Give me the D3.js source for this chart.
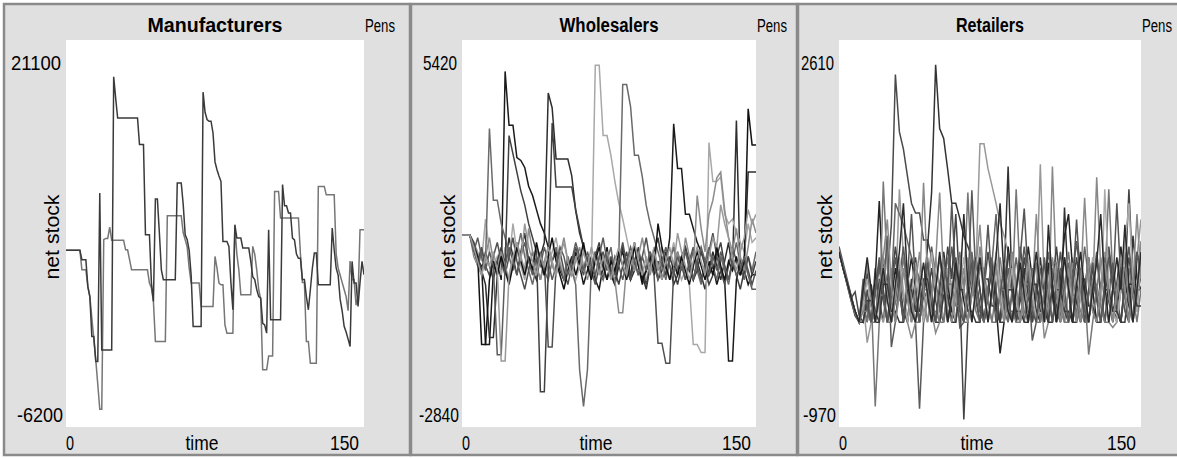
<!DOCTYPE html>
<html>
<head>
<meta charset="utf-8">
<script src="https://cdn.jsdelivr.net/npm/d3@7"></script>
<style>
  body { margin: 0; background: #fff; }
  svg { display: block; font-family: "Liberation Sans", Arial, sans-serif; }
</style>
</head>
<body>
<div id="viz"></div>
<script>
// ---------- data ----------
const panelTitles = ["Manufacturers", "Wholesalers", "Retailers"];
const yMaxLabels = [21100, 5420, 2610];
const yMinLabels = [-6200, -2840, -970];
const xMaxLabel = 150;
const xTitle = "time";
const yTitle = "net stock";
const pensLabel = "Pens";

// manufacturers: one value per tick (0..150)
const manufacturers = [
  [6260,6260,6260,6260,6260,6260,6260,6260,5600,5600,5600,3700,3000,185,185,-1580,-1580,10300,-760,-760,
   -760,-760,-760,-760,18500,17000,15600,15600,15600,15600,15600,15600,15600,15600,15600,15600,15600,13720,13720,13720,
   7360,7360,7360,3950,2660,9880,9880,7480,4890,4190,4190,4190,4190,4190,4190,4190,11010,11010,11010,9500,
   7360,7010,6260,4500,890,890,890,890,890,17420,16000,15490,15370,15370,14540,12500,11950,11500,11130,6890,
   6890,6890,6540,4000,2070,8070,7130,7130,7130,6420,6420,6420,6420,5500,4400,4200,3500,3000,2900,1110,
   1000,420,7720,1360,1360,1360,1360,1360,1360,10900,9400,9400,8900,8900,7130,7000,6000,5700,5700,4200,
   4200,3000,2070,3500,5000,6070,6070,3830,3830,3830,3830,3830,3830,3830,7840,6300,5000,4500,2800,2000,
   900,500,0,-520,5480,3950,3950,2300,4000,5480,4540],
  [6260,6260,6260,6260,6260,6260,6260,6260,4890,4890,4890,3700,3010,1500,0,-1500,-3200,-4950,-4950,7010,
   7100,7100,7900,6970,6970,6970,6970,6970,6970,6970,6300,6300,5600,4890,4890,4890,4890,4890,4890,4890,
   4890,4890,3950,3600,2660,-170,-170,-170,-170,-170,-170,8710,8710,8710,8710,8710,8710,8710,8710,7500,
   7000,6500,5000,3950,3950,3950,3950,3950,2300,2300,2300,2300,2300,2300,2300,5830,5000,3950,3830,3830,
   1000,420,420,420,420,7950,6000,4890,3130,3130,3130,3130,3130,3130,6540,6000,4890,3500,2800,-2170,
   -2170,-2170,-1200,-1200,-1200,10420,10420,10420,8540,8540,8540,8540,8540,8540,8540,8540,8540,8540,6000,4000,
   4000,-170,-170,-1700,-1700,-1700,-1700,10770,10770,10770,10770,10180,10180,10180,10180,10180,6000,5000,4500,4000,
   3500,3000,2000,5500,4190,4190,2400,3000,7720,7720,7720]
];

// wholesalers: one value every 2 ticks (0,2,..,150)
const wholesalers = [
  [1260,1260,1260,900,700,600,-1080,-1080,500,700,300,4750,3600,3600,2910,2850,2700,2300,2100,1800,
   1500,1300,1000,700,900,500,300,700,400,900,600,200,500,800,300,100,600,1000,400,200,
   700,900,500,300,1100,600,200,500,900,400,700,300,600,1200,3630,2680,2680,1700,1700,1400,
   1100,900,700,400,600,200,500,300,-1430,-1430,300,700,500,200,410,410],
  [1260,1260,1260,1000,800,500,200,-930,-930,400,900,600,1200,800,400,900,1300,700,500,300,
   800,1100,4290,3970,2880,2880,2880,2880,2520,1780,1300,1000,700,400,900,600,300,800,500,200,
   600,1000,700,300,500,900,400,100,600,800,300,500,900,600,200,400,800,1000,500,300,
   700,400,100,500,900,600,300,700,1100,500,3700,400,600,2600,2600,2600],
  [1260,1260,1260,1100,900,700,1600,900,600,800,400,1000,700,1500,900,600,300,800,500,1000,
   700,400,600,900,1200,700,400,800,500,300,600,900,700,500,4880,4880,3380,3380,2950,2400,
   1940,1600,1200,800,500,900,600,300,700,1000,500,800,400,700,1100,600,300,500,200,-1080,
   -1080,-1250,-1250,3230,2400,2400,2500,1700,1500,1600,1300,1100,900,1500,1100,1200],
  [1260,1260,1260,1000,600,900,700,3530,2000,2000,1500,1200,800,500,900,1300,800,500,200,600,
   900,500,300,700,1000,600,300,800,500,200,-1620,-2400,-1620,600,900,500,300,700,1000,400,
   800,4470,4470,4000,2960,2960,2500,1890,1500,1200,900,600,300,700,1000,500,800,300,600,900,
   500,200,700,1000,600,300,800,500,200,700,1100,600,300,800,500,900],
  [1260,1260,1260,1100,800,500,900,600,300,700,1000,600,3380,2990,2600,2200,1900,1500,1200,900,
   -2090,-2090,500,3650,2280,2280,2280,2280,2280,1800,1400,1000,700,400,800,1100,600,300,700,500,
   200,600,900,400,700,1000,500,200,600,900,1200,700,400,800,500,200,600,1000,700,300,
   500,900,600,200,400,800,1100,600,300,700,400,100,500,800,400,700],
  [1260,1260,1260,900,700,1000,600,400,800,1100,700,400,800,1200,700,400,100,500,900,600,
   300,700,-1130,-1130,600,900,500,200,600,1000,700,400,800,500,200,600,900,500,800,400,
   700,1100,600,300,700,400,800,1200,700,400,-1050,-1050,-1480,-1480,500,900,600,300,700,1000,
   600,300,500,900,1300,800,500,200,600,1000,700,400,800,500,200,500],
  [1260,1260,1260,800,600,400,800,1200,700,500,900,600,300,700,1100,800,500,1400,900,600,
   300,700,1000,600,400,800,1200,700,400,700,1000,600,300,700,400,800,500,900,600,300,
   -400,-400,600,900,500,800,1200,700,400,800,500,1000,700,300,600,900,500,1200,800,500,
   2100,1400,900,1700,2000,2480,2600,1800,1200,900,1400,800,500,1000,1600,1300],
  [1260,1260,1260,1000,800,-1080,-1080,300,700,400,800,500,200,600,1000,700,400,800,500,1100,
   700,400,800,1200,700,400,100,500,800,400,700,1100,600,300,700,1000,600,300,700,500,
   900,600,300,700,1000,600,300,500,800,500,1500,1000,600,300,700,400,800,500,200,600,
   900,600,300,700,400,1000,600,300,700,500,800,400,700,3950,3180,3180],
  [1260,1260,1260,900,1200,800,500,900,600,-1300,-1300,600,1000,700,400,800,1100,700,400,800,
   600,1000,700,300,600,1000,800,400,700,1100,800,500,900,600,400,800,1200,700,400,800,
   600,300,700,1000,700,400,800,500,900,600,300,700,1000,600,400,800,500,900,600,300,
   700,1000,700,400,800,500,900,600,300,700,400,500,800,400,100,100],
  [1260,1260,1260,1000,700,400,800,600,900,500,-1430,-1430,400,800,1100,700,1500,1000,700,400,
   800,600,1000,700,400,800,1100,700,400,800,500,900,600,1000,700,400,800,600,300,700,
   1000,600,400,800,1100,700,400,800,500,900,600,300,700,1000,600,1300,900,600,300,700,
   1000,700,400,800,1200,1000,1900,1500,1200,800,500,900,1200,1800,1500,1700]
];

// retailers: one value every 2 ticks (0,2,..,150)
const retailers = [
  [650,500,360,220,280,60,0,300,0,500,200,0,400,900,2290,1760,1600,1350,1100,1010,
   1010,760,760,600,350,100,400,0,250,600,300,0,150,500,200,0,300,650,350,100,
   0,400,200,0,300,700,400,100,0,350,200,0,500,300,0,200,600,350,0,250,
   500,150,0,400,200,0,300,700,400,100,0,350,600,300,200,450],
  [650,520,380,240,100,0,150,0,350,100,0,600,300,0,200,500,250,0,400,150,
   0,300,700,1200,2380,1790,1700,1410,1100,1100,960,800,700,600,400,150,0,300,550,200,
   0,400,1440,300,0,200,500,250,0,300,600,200,0,350,150,0,1060,300,0,200,
   500,250,0,300,600,250,0,400,150,0,500,250,0,800,400,300],
  [650,510,370,230,90,0,200,-190,0,300,100,0,250,500,200,1230,600,300,0,200,
   400,100,0,300,600,300,0,200,500,250,0,300,600,350,500,1650,1650,1420,1260,1100,
   920,800,650,400,200,0,300,150,0,250,1460,300,0,200,500,250,0,300,600,300,
   0,200,500,250,0,300,650,350,100,0,300,600,300,400,600,950],
  [650,500,350,200,60,0,300,100,0,400,1120,300,0,200,500,300,0,350,600,300,
   0,250,500,200,0,300,650,350,100,0,400,200,0,300,600,300,0,250,500,150,
   -290,0,700,400,100,0,350,700,400,100,0,300,550,250,0,400,800,1000,500,200,
   0,300,600,300,0,250,500,200,0,350,700,400,150,0,600,550],
  [650,510,360,220,80,0,200,0,250,-780,0,1300,500,200,0,300,600,300,0,200,
   0,300,600,300,0,200,500,250,0,300,650,300,1200,400,100,0,350,200,0,300,
   600,300,0,250,1230,400,100,0,300,550,250,0,200,500,250,0,300,650,350,100,
   0,300,-300,0,300,600,350,1230,400,100,0,300,500,250,0,300],
  [700,550,400,250,100,0,400,150,0,300,600,300,800,-230,0,400,700,350,100,0,
   -800,0,300,700,400,100,0,350,700,400,-50,0,300,1220,400,100,0,300,600,300,
   0,200,500,250,0,350,700,400,-170,0,300,600,300,0,250,500,200,0,400,750,
   400,100,0,350,650,300,0,250,550,250,0,400,700,350,100,600],
  [650,510,370,230,90,0,250,500,200,0,300,600,300,0,250,550,250,0,-150,0,
   300,1290,400,100,-100,0,300,600,300,0,250,500,250,0,300,700,350,0,250,550,
   250,0,300,650,350,0,250,500,200,0,300,-150,0,1440,400,100,0,300,550,250,
   0,300,600,300,1340,500,200,0,-50,0,300,650,300,0,350,750],
  [650,500,370,230,100,0,200,450,150,0,400,200,0,350,700,400,100,0,300,600,
   300,0,250,500,200,0,300,700,400,1000,300,-900,0,300,600,300,0,250,550,250,
   0,300,650,300,0,250,600,300,0,250,500,250,0,350,700,350,100,0,300,600,
   300,0,250,500,250,0,300,650,350,100,0,350,1230,400,200,500],
  [650,510,370,230,90,0,300,100,0,250,500,250,0,300,1100,1000,900,750,600,500,
   400,300,200,0,300,600,300,0,250,500,200,0,300,650,350,100,0,300,550,1000,
   400,100,0,300,600,300,0,250,500,250,0,300,650,350,100,0,300,550,250,0,
   300,700,400,100,0,300,600,300,0,250,500,250,0,300,650,400],
  [650,500,360,220,80,0,150,400,150,0,250,500,250,0,300,600,300,0,250,550,
   250,0,300,650,350,0,250,500,200,0,300,600,300,0,250,550,250,0,300,650,
   350,0,250,500,200,0,300,600,300,0,250,550,250,0,300,650,350,0,250,500,
   200,0,300,600,300,0,1230,400,100,0,300,700,1100,400,100,600],
  [650,510,370,230,90,0,0,200,200,0,0,350,350,100,100,0,0,300,300,100,
   100,400,400,150,0,0,250,250,0,0,300,300,100,100,0,0,400,400,150,150,
   0,0,300,300,100,100,0,0,350,350,100,100,0,0,300,300,100,100,0,0,
   400,400,150,150,0,0,300,300,100,100,0,0,350,350,150,150],
  [650,510,370,230,90,0,100,100,0,0,250,250,0,0,200,200,450,450,200,0,
   0,300,300,100,100,0,0,350,350,150,150,0,0,250,250,500,500,200,0,0,
   300,300,100,100,0,0,350,350,150,0,0,300,300,550,550,200,0,0,250,250,
   100,0,0,350,350,150,0,0,300,300,500,500,200,0,300,300],
  [650,500,360,220,80,0,350,150,0,300,550,250,0,300,600,300,0,400,1000,350,
   0,300,550,250,0,350,600,300,1100,400,100,0,300,550,250,0,350,900,350,0,
   250,550,250,0,300,600,1050,400,100,0,300,550,250,0,350,650,300,0,300,950,
   350,0,300,550,250,0,350,600,300,1100,400,100,0,350,650,500],
  [650,510,370,230,90,0,250,550,250,0,300,600,950,350,0,250,500,200,0,350,
   650,300,0,250,550,1200,400,100,0,300,600,300,0,250,500,900,350,0,250,500,
   200,0,350,650,300,0,250,550,250,1000,350,0,300,600,300,0,250,500,200,0,
   350,1150,400,100,0,300,550,250,0,300,600,300,0,350,1000,400],
  [650,500,370,230,100,0,300,600,300,0,250,500,200,0,350,650,1100,400,100,0,
   300,550,250,0,300,650,350,0,250,550,300,1000,350,0,300,600,300,0,300,600,
   1100,400,100,0,300,550,250,0,350,650,300,0,900,350,0,300,600,300,0,350,
   650,300,0,300,550,1000,350,0,300,600,300,900,350,0,300,650]
];

// ticks between consecutive stored values, per panel
const valueSpacing = [1, 2, 2];

// ---------- styles ----------
const shades = [
  ["#767676", "#3a3a3a"],
  ["#1a1a1a", "#2e2e2e", "#a8a8a8", "#6a6a6a", "#404040", "#505050", "#8c8c8c", "#111111", "#5c5c5c", "#999999"],
  ["#4a4a4a", "#333333", "#999999", "#222222", "#777777", "#5a5a5a", "#888888", "#444444", "#666666", "#aaaaaa",
   "#3a3a3a", "#7a7a7a", "#555555", "#8a8a8a", "#2a2a2a"]
];

const W = 1177, H = 458;
const plotTop = 40, plotBottom = 427;
const frames = [
  {left: 4, right: 410, plotL: 66, plotR: 364},
  {left: 411, right: 797, plotL: 462, plotR: 756},
  {left: 798, right: 1186, plotL: 839, plotR: 1141}
];
// widths of the labels in the original (its font is narrower than ours)
const titleW = [135, 99, 68];
const yMaxW = [50, 34, 33];
const yMinW = [46, 40, 33];

const allSeries = [manufacturers.slice().reverse(), wholesalers, retailers];

const svg = d3.select("#viz").append("svg")
    .attr("width", W)
    .attr("height", H);

svg.append("rect").attr("width", W).attr("height", H).attr("fill", "#fff");

function label(g, txt, x, y, w, size, bold) {
    return g.append("text")
        .attr("x", x)
        .attr("y", y)
        .attr("textLength", w)
        .attr("lengthAdjust", "spacingAndGlyphs")
        .attr("font-size", size)
        .attr("font-weight", bold ? "bold" : "normal")
        .attr("fill", "#000")
        .text(txt);
}

frames.forEach(function(f, i) {
    var g = svg.append("g");

    g.append("rect")
        .attr("x", f.left)
        .attr("y", 4)
        .attr("width", f.right - f.left)
        .attr("height", 451)
        .attr("fill", "#e0e0e0")
        .attr("stroke", "#8a8a8a")
        .attr("stroke-width", 2.5);

    g.append("rect")
        .attr("x", f.plotL)
        .attr("y", plotTop)
        .attr("width", f.plotR - f.plotL)
        .attr("height", plotBottom - plotTop)
        .attr("fill", "#fff");

    var x = d3.scaleLinear().domain([0, xMaxLabel]).range([f.plotL, f.plotR]);
    var y = d3.scaleLinear().domain([yMinLabels[i], yMaxLabels[i]]).range([plotBottom, plotTop]);

    svg.append("clipPath").attr("id", "clip" + i)
        .append("rect")
        .attr("x", f.plotL).attr("y", plotTop)
        .attr("width", f.plotR - f.plotL).attr("height", plotBottom - plotTop);

    var step = valueSpacing[i];
    var line = d3.line()
        .x(function(d, j) { return x(j * step); })
        .y(function(d) { return y(d); });

    var cols = shades[i];
    g.append("g")
        .attr("clip-path", "url(#clip" + i + ")")
        .selectAll("path")
        .data(allSeries[i])
        .enter()
        .append("path")
        .attr("d", line)
        .attr("fill", "none")
        .attr("stroke", function(d, k) { return cols[k % cols.length]; })
        .attr("stroke-width", 1.5)
        .attr("stroke-linejoin", "miter");

    var mid = (f.plotL + f.plotR) / 2;
    label(g, panelTitles[i], mid - titleW[i] / 2, 32, titleW[i], 20, true);
    label(g, pensLabel, f.plotR + 1, 32, 30, 18, false);

    label(g, String(yMaxLabels[i]), f.plotL - 5 - yMaxW[i], 70, yMaxW[i], 21, false);
    label(g, String(yMinLabels[i]), f.plotL - 3 - yMinW[i], 422, yMinW[i], 21, false);

    label(g, "0", f.plotL, 450, 8, 21, false);
    label(g, String(xMaxLabel), f.plotR - 5 - 29, 450, 29, 21, false);
    label(g, xTitle, mid - 13 - 16.5, 450, 33, 21, false);

    var yl = g.append("g").attr("transform", "translate(" + (f.plotL - 7) + ",237) rotate(-90)");
    label(yl, yTitle, -42.5, 0, 85, 20, false);
});
</script>
</body>
</html>
